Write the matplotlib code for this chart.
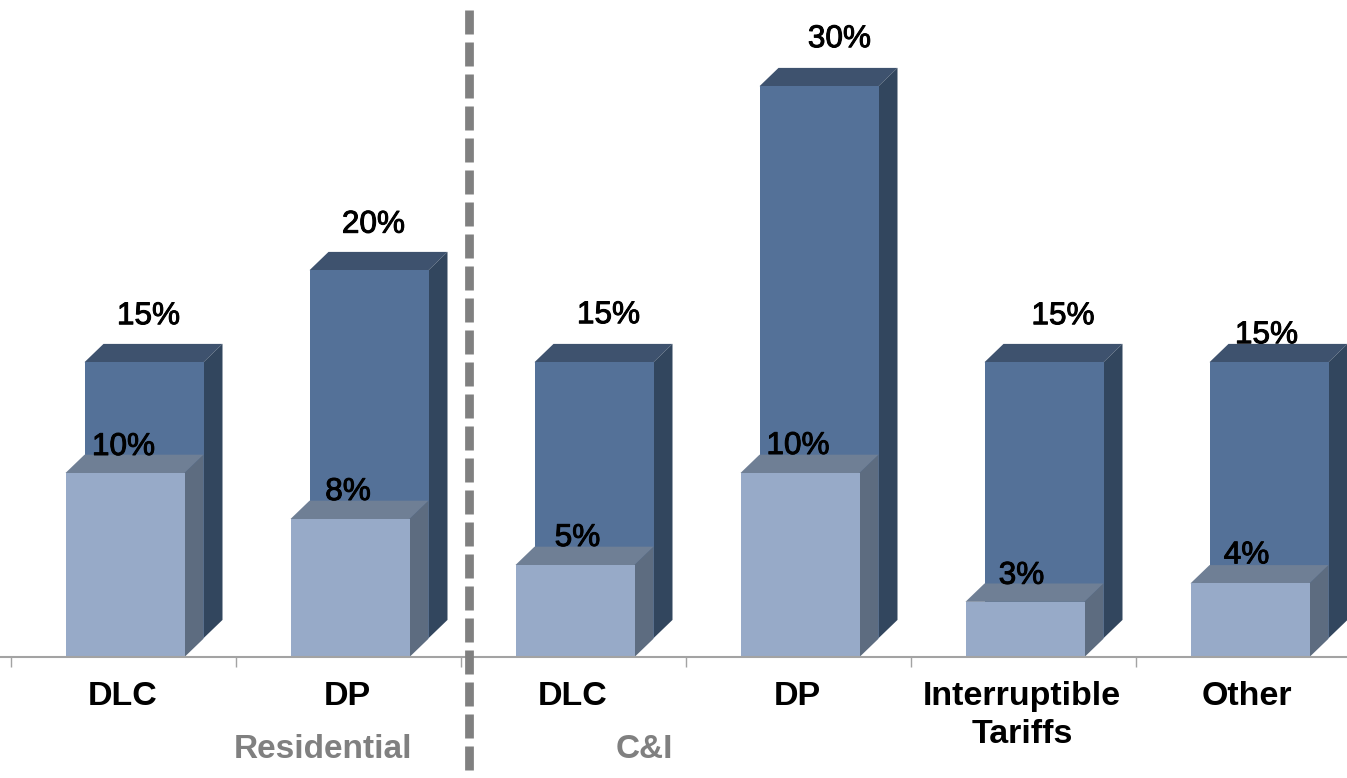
import numpy as np
import matplotlib
matplotlib.use("Agg")
import matplotlib.pyplot as plt
import matplotlib.patheffects as pe
from matplotlib.patches import Polygon

categories = ["DLC", "DP", "DLC", "DP", "Interruptible\nTariffs", "Other"]
back_values = [15, 20, 15, 30, 15, 15]
back_labels = ["15%", "20%", "15%", "30%", "15%", "15%"]
front_values = [10, 7.5, 5, 10, 3, 4]
front_labels = ["10%", "8%", "5%", "10%", "3%", "4%"]
group_labels = ["Residential", "C&I"]

plt.rcParams["font.family"] = ["Liberation Sans", "DejaVu Sans"]
W, H = 1347, 778
fig = plt.figure(figsize=(W / 100, H / 100), dpi=100, facecolor="white")
ax = fig.add_axes([0, 0, 1, 1])

# scale: one category = 225 px, one percent = 18.4 px, baseline at y = 657 px
PX_X, PX_Y, X0, Y0 = 225.0, 18.4, 125.0, 657.0
ax.set_xlim(-X0 / PX_X, (W - X0) / PX_X)
ax.set_ylim((Y0 - H) / PX_Y, Y0 / PX_Y)
ax.patch.set_visible(False)

bar_w = 119 / PX_X
dx, dy = 19 / PX_X, 18.3 / PX_Y
back_base = 18.8 / PX_Y
x = np.arange(len(categories), dtype=float)


def box(xc, vals, bottom, front, top, side, z):
    ax.bar(xc, vals, width=bar_w, bottom=bottom, color=front, linewidth=0, zorder=z + 0.2)
    for xi, v in zip(xc, vals):
        l, r, t, b = xi - bar_w / 2, xi + bar_w / 2, bottom + v, bottom
        ax.add_patch(Polygon([(l, t), (r, t), (r + dx, t + dy), (l + dx, t + dy)],
                             fc=top, ec="none", zorder=z))
        ax.add_patch(Polygon([(r, b), (r, t), (r + dx, t + dy), (r + dx, b + dy)],
                             fc=side, ec="none", zorder=z))


box(x + dx, back_values, back_base, "#547198", "#3e526e", "#32465e", 2)
box(x, front_values, 0.0, "#97aac8", "#6f7f95", "#5d6c80", 3)

# axis
for s in ["top", "left", "right"]:
    ax.spines[s].set_visible(False)
ax.spines["bottom"].set_position(("data", 0))
ax.spines["bottom"].set_color("#a3a3a3")
ax.spines["bottom"].set_linewidth(1.5)
ax.spines["bottom"].set_zorder(4)
ax.set_yticks([])
ax.set_xticks(x - 0.505)
ax.set_xticklabels([])
ax.tick_params(axis="x", which="major", length=7.5, width=1, color="#a3a3a3", direction="out")
ax.set_xticks(x - 0.012, minor=True)
ax.set_xticklabels(categories, minor=True, fontsize=24.5, fontweight="bold", color="black",
                   linespacing=1.27)
ax.tick_params(axis="x", which="minor", length=0, pad=17.5)

# value labels, offset in px from the top centre of each bar
back_off = [(4.5, 46), (4.5, 45.5), (14.5, 47), (20.5, 47), (19, 46), (-2.5, 27)]
front_off = [(-1.5, 26), (-2, 27), (2.5, 27), (-2, 27), (-3.5, 26), (-3.5, 28)]
stroke = [pe.withStroke(linewidth=0.7, foreground="black")]
for xs, vals, labs, base, offs in [(x + dx, back_values, back_labels, back_base, back_off),
                                   (x, front_values, front_labels, 0, front_off)]:
    for xi, v, lab, (ox, oy) in zip(xs, vals, labs, offs):
        ax.annotate(lab, (xi, v + base), xytext=(ox * 0.72, oy * 0.72),
                    textcoords="offset points", ha="center", va="center",
                    fontsize=22.7, color="black", path_effects=stroke, zorder=6)

# group labels
for xi, lab in zip([0.882, 2.31], group_labels):
    ax.text(xi, -5.05, lab, ha="center", va="center", fontsize=24, fontweight="bold",
            color="#808080", zorder=6)

# divider between groups
ax.plot([1.529, 1.529], [(Y0 - 9.5) / PX_Y, (Y0 - H) / PX_Y], color="#808080", lw=6.3,
        dashes=(24 / 8.75, 8 / 8.75), dash_capstyle="butt", zorder=5)

fig.savefig("out.png", dpi=100, facecolor="white")
